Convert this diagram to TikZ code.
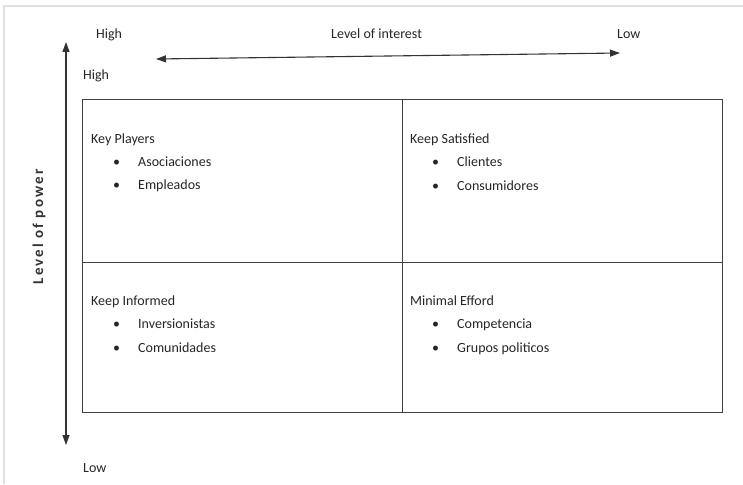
\documentclass[tikz,border=0pt]{standalone}
\usepackage{fontspec}
\setmainfont{Carlito}
\usetikzlibrary{arrows.meta}

\begin{document}
\begin{tikzpicture}[x=1pt, y=-1pt,
    txt/.style={font=\fontsize{14}{16}\selectfont, text=black!85, inner sep=0pt, anchor=base west},
    quad/.style={draw=black!75, line width=1.4pt, anchor=north west, inner sep=0pt, minimum width=320pt},
    axis/.style={{Triangle[length=10pt,width=7pt]}-{Triangle[length=10pt,width=7pt]}, line width=1.1pt, black!80}]
    \useasboundingbox (0,0) rectangle (743,484);
    \fill[white] (0,0) rectangle (743,484);
    % Frame of the page
    \draw[black!12, line width=1.5pt] (4,484) -- (4,6) -- (743,6);

    % Axes
    \coordinate (powHigh) at (66,42);
    \coordinate (powLow) at (66,445);
    \coordinate (intHigh) at (156,59);
    \coordinate (intLow) at (620,53);
    \draw[axis] (powLow) -- (powHigh);
    \draw[axis] (intHigh) -- (intLow);

    % Axis labels
    \node[txt] (hiTop) at (96,39) {High};
    \node[txt] (interest) at (331,39) {Level of interest};
    \node[txt] (loTop) at (617,39) {Low};
    \node[txt] (hiPow) at (83,80) {High};
    \node[txt] (loPow) at (83,472) {Low};
    \node[font=\fontsize{15}{17}\selectfont\bfseries\addfontfeature{LetterSpace=14}, text=black!80, rotate=90, inner sep=0pt] (power) at (39,227) {Level of power};

    % Quadrants
    \node[quad, minimum height=163pt] (kp) at (82,99) {};
    \node[quad, minimum height=163pt] (ks) at (402,99) {};
    \node[quad, minimum height=150pt] (ki) at (82,262) {};
    \node[quad, minimum height=150pt] (me) at (402,262) {};

    % Key Players
    \node[txt] (kpT) at (91,143) {Key Players};
    \node[txt] (kpA) at (113,166) {\makebox[25pt][l]{\textbullet}Asociaciones};
    \node[txt] (kpB) at (113,189) {\makebox[25pt][l]{\textbullet}Empleados};

    % Keep Satisfied
    \node[txt] (ksT) at (410,143) {Keep Satisfied};
    \node[txt] (ksA) at (432,166) {\makebox[25pt][l]{\textbullet}Clientes};
    \node[txt] (ksB) at (432,190) {\makebox[25pt][l]{\textbullet}Consumidores};

    % Keep Informed
    \node[txt] (kiT) at (91,305) {Keep Informed};
    \node[txt] (kiA) at (113,328) {\makebox[25pt][l]{\textbullet}Inversionistas};
    \node[txt] (kiB) at (113,352) {\makebox[25pt][l]{\textbullet}Comunidades};

    % Minimal Efford
    \node[txt] (meT) at (410,305) {Minimal Efford};
    \node[txt] (meA) at (432,328) {\makebox[25pt][l]{\textbullet}Competencia};
    \node[txt] (meB) at (432,352) {\makebox[25pt][l]{\textbullet}Grupos politicos};
\end{tikzpicture}
\end{document}
